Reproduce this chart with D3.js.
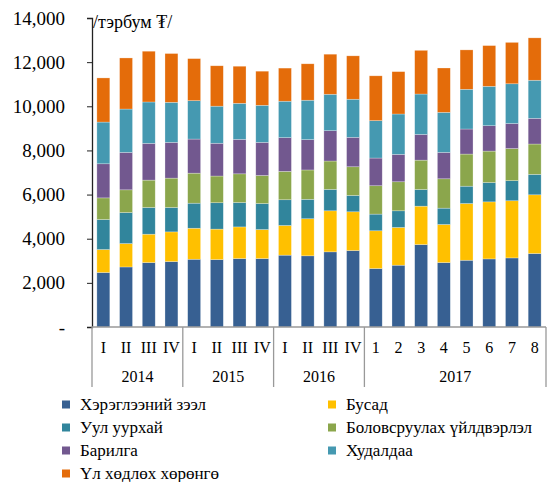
<!DOCTYPE html>
<html>
<head>
<meta charset="utf-8">
<script src="https://cdn.jsdelivr.net/npm/d3@7"></script>
<style>
  body { margin: 0; background: #fff; }
  svg text { font-family: "Liberation Serif", "Times New Roman", serif; fill: #000; }
</style>
</head>
<body>
<div id="chart"></div>
<script>
// period labels under each bar, and the year groups they belong to
var periods = ["I","II","III","IV","I","II","III","IV","I","II","III","IV","1","2","3","4","5","6","7","8"];
var years = ["2014","2015","2016","2017"];
var yearCounts = [4, 4, 4, 8];

// series values, тэрбум ₮
var consumer   = [2470,2720,2920,2965,3070,3055,3100,3100,3255,3225,3405,3465,2650,2800,3735,2920,3025,3085,3130,3330];
var other      = [1040,1060,1285,1345,1405,1380,1435,1315,1345,1680,1860,1755,1710,1710,1740,1725,2570,2585,2590,2660];
var mining     = [1360,1405,1210,1105,1135,1195,1105,1180,1165, 880, 970, 740, 755, 755, 755, 740, 785, 875, 910, 925];
var manufact   = [ 980,1030,1240,1330,1360,1210,1300,1270,1285,1330,1285,1300,1285,1315,1330,1330,1455,1425,1455,1375];
var construct  = [1545,1695,1665,1620,1545,1485,1560,1500,1530,1375,1375,1335,1255,1240,1165,1195,1135,1150,1135,1165];
var trade      = [1890,1965,1875,1815,1740,1680,1635,1680,1650,1785,1650,1725,1695,1830,1830,1815,1800,1785,1800,1725];
var realEstate = [2000,2315,2300,2210,1905,1830,1680,1545,1500,1650,1815,1965,2030,1920,1980,2010,1785,1845,1875,1920];

var seriesNames = ["Хэрэглээний зээл","Бусад","Уул уурхай","Боловсруулах үйлдвэрлэл","Барилга","Худалдаа","Үл хөдлөх хөрөнгө"];
var seriesValues = [consumer, other, mining, manufact, construct, trade, realEstate];
var colors = ["#376092","#FFC000","#31859C","#8BA64C","#72588F","#4599B1","#E46C0A"];

var yTicks = [0,2000,4000,6000,8000,10000,12000,14000];

var W = 549, H = 482;
var mLeft = 92, mRight = 546, mTop = 18, mBottom = 327;

var rows = periods.map(function(p, i){
    var r = {key: i};
    seriesNames.forEach(function(s, j){ r[s] = seriesValues[j][i]; });
    return r;
});

var svg = d3.select("#chart").append("svg").attr("width", W).attr("height", H);

var x = d3.scaleBand().domain(d3.range(periods.length)).range([mLeft, mRight]).paddingInner(0.43).paddingOuter(0.215);
var y = d3.scaleLinear().domain([0, 14000]).range([mBottom, mTop]);

var layers = d3.stack().keys(seriesNames)(rows);

svg.append("g").selectAll("g")
    .data(layers)
    .enter().append("g")
    .attr("fill", function(d, i){ return colors[i]; })
    .selectAll("rect")
    .data(function(d){ return d; })
    .enter().append("rect")
    .attr("x", function(d, i){ return x(i); })
    .attr("width", x.bandwidth())
    .attr("y", function(d){ return y(d[1]); })
    .attr("height", function(d){ return y(d[0]) - y(d[1]); })
    .attr("stroke", "rgba(255,255,255,0.45)")
    .attr("stroke-width", 0.6);

// y axis
var yAxis = d3.axisLeft(y).tickValues(yTicks).tickSize(5).tickPadding(22)
    .tickFormat(function(d){ return d === 0 ? "-" : d3.format(",")(d); });
var gy = svg.append("g").attr("transform", "translate(" + mLeft + ",0)").call(yAxis);
gy.select(".domain").attr("stroke", "#222").attr("stroke-width", 1.3);
gy.selectAll(".tick line").attr("stroke", "#222");
gy.selectAll("text").style("font-size", "19px").attr("fill", "#000");

// unit label
svg.append("text").attr("x", mLeft + 1).attr("y", 28).style("font-size", "18px").text("/тэрбум ₮/");

// x axis base
svg.append("line").attr("x1", mLeft).attr("x2", mRight).attr("y1", mBottom).attr("y2", mBottom)
    .attr("stroke", "#999").attr("stroke-width", 1.3);

// period labels
svg.append("g").selectAll("text")
    .data(periods)
    .enter().append("text")
    .attr("x", function(d, i){ return x(i) + x.bandwidth() / 2; })
    .attr("y", 353)
    .attr("text-anchor", "middle")
    .style("font-size", "16px")
    .text(function(d){ return d; });

// year groups and separators
var step = x.step();
var start = 0;
var bounds = [mLeft];
years.forEach(function(yr, i){
    var x0 = mLeft + start * step;
    var x1 = mLeft + (start + yearCounts[i]) * step;
    svg.append("text").attr("x", (x0 + x1) / 2).attr("y", 382)
        .attr("text-anchor", "middle").style("font-size", "16px").text(yr);
    start += yearCounts[i];
    bounds.push(x1);
});
svg.append("g").selectAll("line")
    .data(bounds)
    .enter().append("line")
    .attr("x1", function(d){ return d; }).attr("x2", function(d){ return d; })
    .attr("y1", mBottom).attr("y2", 387)
    .attr("stroke", "#999").attr("stroke-width", 1.3);

// legend
var legend = svg.append("g");
seriesNames.forEach(function(name, i){
    var col = i % 2, row = Math.floor(i / 2);
    var lx = col === 0 ? 66 : 332;
    var ly = 404.5 + row * 23;
    legend.append("rect").attr("x", lx - 4).attr("y", ly - 4).attr("width", 8).attr("height", 8).attr("fill", colors[i]);
    legend.append("text").attr("x", lx + 14).attr("y", ly + 5).style("font-size", "17px").text(name);
});
</script>
</body>
</html>
